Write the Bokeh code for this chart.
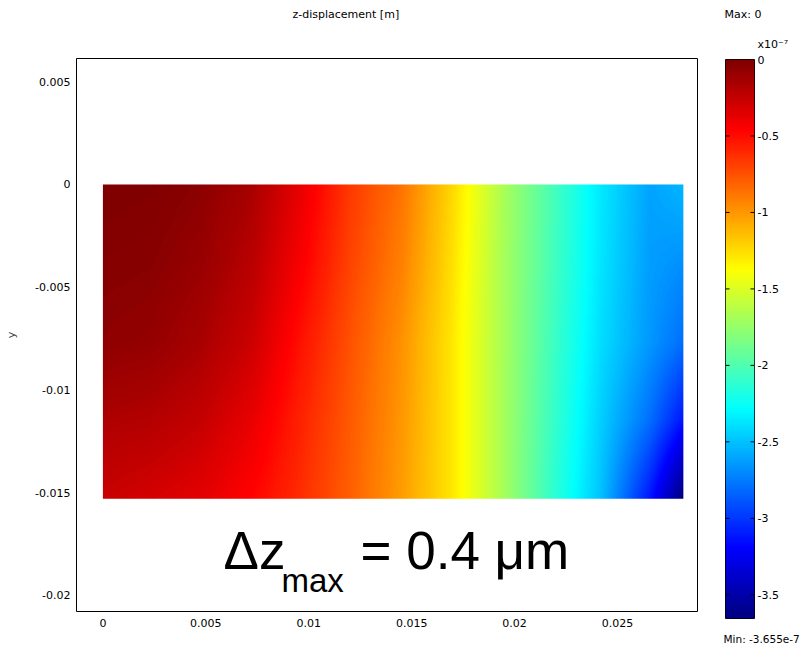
import numpy as np
from bokeh.plotting import figure
from bokeh.models import Range1d, FixedTicker, LinearColorMapper, Label, Title
from bokeh.layouts import row, column
from bokeh.embed import file_html
from bokeh.resources import INLINE

# Sample columns / rows across the plate (m)
col_x = [0.0, 0.0023, 0.0047, 0.0072, 0.0096, 0.012, 0.0145, 0.0169, 0.0193, 0.0218, 0.0242, 0.0266, 0.0282]
row_y = [0.0, -0.00385, -0.0077, -0.0115, -0.0153]

# z-displacement at the sample points, in units of 1e-7 m (top edge first)
w_row0 = [0.00, -0.01, -0.05, -0.15, -0.38, -0.66, -0.87, -1.22, -1.65, -2.02, -2.36, -2.61, -2.54]
w_row1 = [-0.03, -0.04, -0.09, -0.21, -0.44, -0.70, -0.92, -1.25, -1.66, -2.03, -2.37, -2.63, -2.68]
w_row2 = [-0.06, -0.08, -0.15, -0.28, -0.52, -0.75, -0.98, -1.28, -1.66, -2.05, -2.40, -2.65, -2.80]
w_row3 = [-0.17, -0.19, -0.25, -0.38, -0.58, -0.78, -1.00, -1.28, -1.66, -2.07, -2.45, -2.80, -3.12]
w_row4 = [-0.27, -0.31, -0.36, -0.47, -0.62, -0.80, -1.02, -1.28, -1.66, -2.10, -2.50, -3.12, -3.655]

z_max = 0.0
z_min = -3.655

x_ticks = [0, 0.005, 0.01, 0.015, 0.02, 0.025]
x_tick_labels = ["0", "0.005", "0.01", "0.015", "0.02", "0.025"]
y_ticks = [0.005, 0, -0.005, -0.01, -0.015, -0.02]
y_tick_labels = ["0.005", "0", "-0.005", "-0.01", "-0.015", "-0.02"]
cb_ticks = [0, -0.5, -1, -1.5, -2, -2.5, -3, -3.5]
cb_tick_labels = ["0", "-0.5", "-1", "-1.5", "-2", "-2.5", "-3", "-3.5"]

# Jet colour map
t = np.linspace(0, 1, 256)
r = np.clip(1.5 - np.abs(4 * t - 3), 0, 1)
g = np.clip(1.5 - np.abs(4 * t - 2), 0, 1)
b = np.clip(1.5 - np.abs(4 * t - 1), 0, 1)
jet = ["#%02x%02x%02x" % (int(round(rr * 255)), int(round(gg * 255)), int(round(bb * 255)))
       for rr, gg, bb in zip(r, g, b)]
mapper = LinearColorMapper(palette=jet, low=z_min, high=z_max)

# Shade the sampled field on a fine raster (rows bottom -> top for the image glyph)
samples = np.array([w_row0, w_row1, w_row2, w_row3, w_row4])[::-1]
sy = np.array(row_y)[::-1]
nx, ny = 580, 316
fx = np.linspace(col_x[0], col_x[-1], nx)
fy = np.linspace(sy[0], sy[-1], ny)
along_x = np.array([np.interp(fx, col_x, s) for s in samples])
field = np.empty((ny, nx))
for j in range(nx):
    field[:, j] = np.interp(fy, sy, along_x[:, j])

FONT = "DejaVu Sans"
note = dict(align="left", text_font=FONT, text_font_size="11px", text_font_style="normal",
            text_color="black")

p = figure(width=712, height=647, frame_width=621, frame_height=553,
           x_range=Range1d(-0.001283, 0.028887), y_range=Range1d(-0.020789, 0.006134),
           toolbar_location=None, output_backend="svg",
           min_border_left=76, min_border_right=15, min_border_top=58, min_border_bottom=36)
p.image(image=[field], x=col_x[0], y=row_y[-1], dw=col_x[-1] - col_x[0],
        dh=row_y[0] - row_y[-1], color_mapper=mapper)
p.grid.visible = False
p.outline_line_color = "black"
p.outline_line_width = 1
p.background_fill_color = "white"
p.border_fill_color = "white"

# title block: a blank spacer next to the frame, the caption above it
p.add_layout(Title(text=" ", standoff=22, **note), "above")
p.add_layout(Title(text="z-displacement [m]", offset=216, standoff=2, **note), "above")

for ax in (p.xaxis[0], p.yaxis[0]):
    ax.axis_line_color = None
    ax.major_tick_line_color = None
    ax.minor_tick_line_color = None
    ax.major_tick_in = 0
    ax.major_tick_out = 0
    ax.minor_tick_in = 0
    ax.minor_tick_out = 0
    ax.major_label_text_font = FONT
    ax.major_label_text_font_size = "11px"
    ax.major_label_text_color = "black"

p.xaxis.ticker = FixedTicker(ticks=x_ticks)
p.xaxis.major_label_overrides = dict(zip(x_ticks, x_tick_labels))
p.xaxis.major_label_standoff = 7
p.yaxis.ticker = FixedTicker(ticks=y_ticks)
p.yaxis.major_label_overrides = dict(zip(y_ticks, y_tick_labels))
p.yaxis.major_label_standoff = 6
p.yaxis.axis_label = "y"
p.yaxis.axis_label_text_font = FONT
p.yaxis.axis_label_text_font_size = "11px"
p.yaxis.axis_label_text_font_style = "normal"
p.yaxis.axis_label_standoff = 14

big = dict(x_units="screen", y_units="screen", text_align="left", text_baseline="alphabetic",
           text_font="Liberation Sans", text_color="black")
p.add_layout(Label(x=147, y=61, text="\u0394z", text_font_size="53px", **big))
p.add_layout(Label(x=205, y=31, text="max", text_font_size="33px", **big))
p.add_layout(Label(x=284, y=61, text="= 0.4 \u03bcm", text_font_size="53px", **big))

# Colour bar
cb = figure(width=91, height=647, frame_width=29, frame_height=559,
            x_range=Range1d(0, 1), y_range=Range1d(z_min, z_max),
            x_axis_location=None, y_axis_location="right",
            toolbar_location=None, output_backend="svg",
            min_border_left=13, min_border_right=49, min_border_top=59, min_border_bottom=29)
cb_vals = np.linspace(z_min, z_max, 512).reshape(-1, 1)
cb.image(image=[cb_vals], x=0, y=z_min, dw=1, dh=z_max - z_min, color_mapper=mapper)
tick_len = 4 / 29
n = len(cb_ticks)
cb.segment(x0=[0] * n, x1=[tick_len] * n, y0=cb_ticks, y1=cb_ticks, line_color="black", line_width=1)
cb.segment(x0=[1 - tick_len] * n, x1=[1] * n, y0=cb_ticks, y1=cb_ticks, line_color="black", line_width=1)
cb.grid.visible = False
cb.outline_line_color = "black"
cb.border_fill_color = "white"
ay = cb.yaxis[0]
ay.ticker = FixedTicker(ticks=cb_ticks)
ay.major_label_overrides = dict(zip(cb_ticks, cb_tick_labels))
ay.axis_line_color = None
ay.major_tick_line_color = None
ay.minor_tick_line_color = None
ay.major_tick_in = 0
ay.major_tick_out = 0
ay.minor_tick_in = 0
ay.minor_tick_out = 0
ay.major_label_standoff = 3
ay.major_label_text_font = FONT
ay.major_label_text_font_size = "11px"
ay.major_label_text_color = "black"

cb.add_layout(Title(text="x10\u207b\u2077", offset=32, standoff=18, **note), "above")
cb.add_layout(Title(text="Max: 0", offset=-1, standoff=11, **note), "above")
spacer = dict(note)
spacer["text_font_size"] = "6px"
cb.add_layout(Title(text=" ", standoff=3, **spacer), "below")
min_note = dict(note)
min_note["text_font_size"] = "10.5px"
cb.add_layout(Title(text="Min: -3.655e-7", offset=-2, standoff=1, **min_note), "below")

layout = row(p, column(cb), spacing=0)
open("out.html", "w").write(file_html(layout, INLINE))
